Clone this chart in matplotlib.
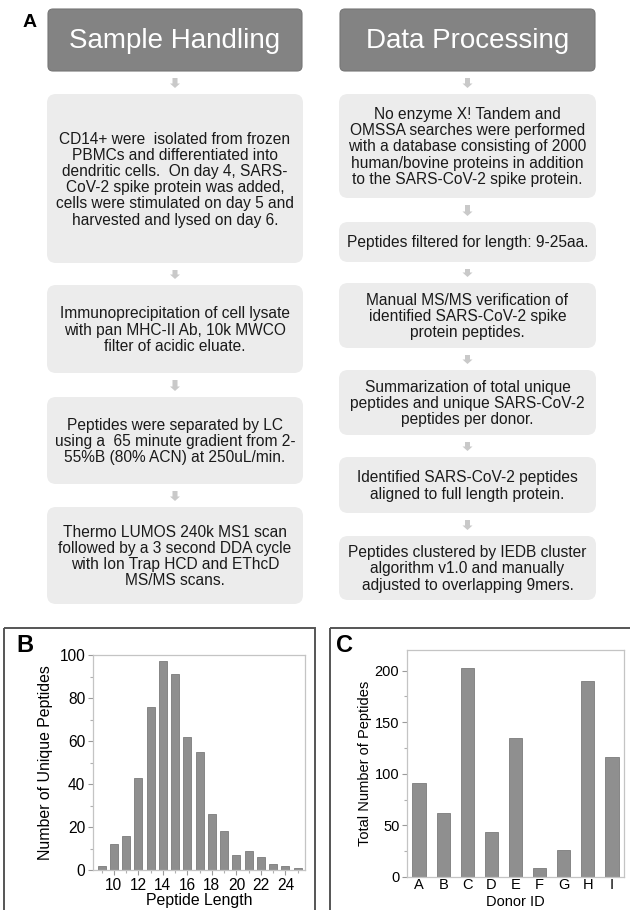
import matplotlib
matplotlib.use("Agg")
import matplotlib.pyplot as plt
from matplotlib.patches import FancyBboxPatch, Rectangle, Polygon
from matplotlib.ticker import MultipleLocator

plt.rcParams['font.family'] = ['Liberation Sans', 'DejaVu Sans']

# panel B: length distribution
peptide_length = list(range(9, 26))
unique_peptides = [2, 12, 16, 43, 76, 97, 91, 62, 55, 26, 18, 7, 9, 6, 3, 2, 1]

# panel C: peptides per donor
donors = ['A', 'B', 'C', 'D', 'E', 'F', 'G', 'H', 'I']
total_peptides = [91, 62, 203, 44, 135, 9, 26, 190, 116]

# panel A: workflow text
headers = ['Sample Handling', 'Data Processing']
left_steps = [
    "CD14+ were  isolated from frozen\nPBMCs and differentiated into\n"
    "dendritic cells.  On day 4, SARS-\nCoV-2 spike protein was added,\n"
    "cells were stimulated on day 5 and\nharvested and lysed on day 6.",
    "Immunoprecipitation of cell lysate\nwith pan MHC-II Ab, 10k MWCO\nfilter of acidic eluate.",
    "Peptides were separated by LC\nusing a  65 minute gradient from 2-\n55%B (80% ACN) at 250uL/min.",
    "Thermo LUMOS 240k MS1 scan\nfollowed by a 3 second DDA cycle\nwith Ion Trap HCD and EThcD\nMS/MS scans.",
]
right_steps = [
    "No enzyme X! Tandem and\nOMSSA searches were performed\nwith a database consisting of 2000\n"
    "human/bovine proteins in addition\nto the SARS-CoV-2 spike protein.",
    "Peptides filtered for length: 9-25aa.",
    "Manual MS/MS verification of\nidentified SARS-CoV-2 spike\nprotein peptides.",
    "Summarization of total unique\npeptides and unique SARS-CoV-2\npeptides per donor.",
    "Identified SARS-CoV-2 peptides\naligned to full length protein.",
    "Peptides clustered by IEDB cluster\nalgorithm v1.0 and manually\nadjusted to overlapping 9mers.",
]

# layout in pixels (y measured from top)
W, H = 630, 910
cols = [(47, 303), (339, 596)]
left_rows = [(94, 263), (285, 373), (397, 484), (507, 604)]
right_rows = [(94, 198), (222, 262), (283, 348), (370, 435), (457, 513), (536, 600)]

fig = plt.figure(figsize=(W / 100, H / 100), dpi=100)

ov = fig.add_axes([0, 0, 1, 1])
ov.set_xlim(0, W)
ov.set_ylim(H, 0)
ov.axis('off')


def down_arrow(cx, y0, y1):
    hl = 4.5
    pts = [(cx - 2.5, y0), (cx + 2.5, y0), (cx + 2.5, y1 - hl), (cx + 5, y1 - hl),
           (cx, y1), (cx - 5, y1 - hl), (cx - 2.5, y1 - hl)]
    ov.add_patch(Polygon(pts, closed=True, fc='#c9c9c9', ec='none'))


for (x0, x1), title, steps, rows in zip(cols, headers, [left_steps, right_steps],
                                        [left_rows, right_rows]):
    ov.add_patch(FancyBboxPatch((x0 + 1, 9), x1 - x0 - 2, 62,
                                boxstyle="round,pad=0,rounding_size=5",
                                fc='#838383', ec='#767676', lw=0.8))
    ov.text((x0 + x1) / 2, 41, title, color='white', fontsize=20,
            ha='center', va='center')
    cx = (x0 + x1) / 2
    prev = 71
    for txt, (t, b) in zip(steps, rows):
        down_arrow(cx, prev + 7, t - 6)
        ov.add_patch(FancyBboxPatch((x0, t), x1 - x0, b - t,
                                    boxstyle="round,pad=0,rounding_size=9",
                                    fc='#ececec', ec='none'))
        ov.text(cx, (t + b) / 2 + 1, txt, fontsize=11.2, color='#1a1a1a',
                ha='center', va='center', multialignment='center', linespacing=1.1)
        prev = b

ov.text(23, 14, 'A', fontsize=14, fontweight='bold', va='top', ha='left')

# panel frames
ov.add_patch(Rectangle((4, 628), 311, 300, fc='none', ec='#555555', lw=1.4))
ov.add_patch(Rectangle((330, 628), 320, 300, fc='none', ec='#555555', lw=1.4))
ov.text(16, 634, 'B', fontsize=17, fontweight='bold', va='top', ha='left')
ov.text(336, 634, 'C', fontsize=17, fontweight='bold', va='top', ha='left')

bar_c = '#8f8f8f'
edge_c = '#7b7b7b'
spine_c = '#c4c4c4'


def style(ax):
    for s in ax.spines.values():
        s.set_color(spine_c)
        s.set_linewidth(0.9)
    ax.tick_params(which='major', length=3.5, width=0.8, color='#9a9a9a', pad=2)
    ax.tick_params(which='minor', length=2, width=0.8, color='#b0b0b0')


axB = fig.add_axes([93 / W, 1 - 870 / H, 212 / W, 215 / H])
axB.bar(peptide_length, unique_peptides, width=0.65, color=bar_c, edgecolor=edge_c, lw=0.6)
axB.set_xlim(8.3, 25.6)
axB.set_ylim(0, 100)
axB.xaxis.set_major_locator(MultipleLocator(2))
axB.xaxis.set_minor_locator(MultipleLocator(1))
axB.yaxis.set_major_locator(MultipleLocator(20))
axB.yaxis.set_minor_locator(MultipleLocator(10))
axB.set_xticks(range(10, 25, 2))
style(axB)
axB.tick_params(labelsize=11.2)
axB.set_ylabel('Number of Unique Peptides', fontsize=11.4)
axB.set_xlabel('Peptide Length', fontsize=11.4)
axB.yaxis.set_label_coords(-0.19, 0.5)
axB.xaxis.set_label_coords(0.5, -0.108)

axC = fig.add_axes([407 / W, 1 - 877 / H, 217 / W, 227 / H])
axC.bar(range(len(donors)), total_peptides, width=0.55, color=bar_c, edgecolor=edge_c, lw=0.6)
axC.set_xlim(-0.5, 8.5)
axC.set_ylim(0, 220)
axC.set_xticks(range(len(donors)))
axC.set_xticklabels(donors)
axC.yaxis.set_major_locator(MultipleLocator(50))
axC.yaxis.set_minor_locator(MultipleLocator(25))
style(axC)
axC.tick_params(labelsize=10.5)
axC.tick_params(axis='x', length=0, pad=1)
axC.set_ylabel('Total Number of Peptides', fontsize=10.5)
axC.set_xlabel('Donor ID', fontsize=10.5)
axC.yaxis.set_label_coords(-0.16, 0.5)
axC.xaxis.set_label_coords(0.5, -0.08)

fig.savefig('out.png', dpi=100)
